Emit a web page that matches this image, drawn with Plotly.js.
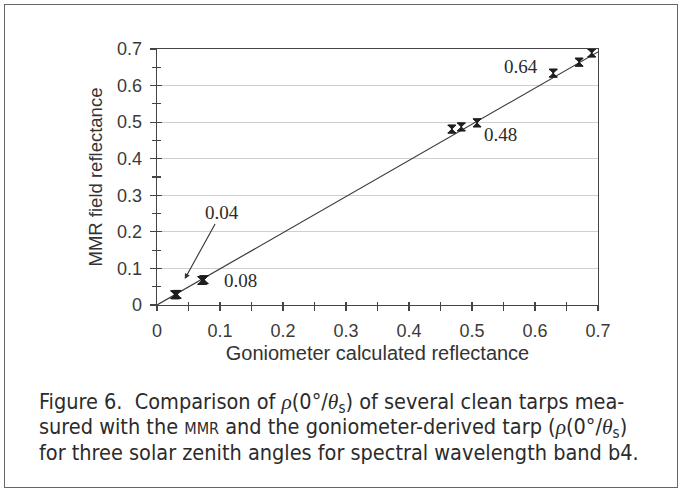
<!DOCTYPE html>
<html>
<head>
<meta charset="utf-8">
<script src="https://cdn.plot.ly/plotly-3.0.1.min.js"></script>
<style>
  html, body { margin: 0; padding: 0; background: #fff; }
  #wrap { position: relative; width: 683px; height: 491px; }
  #chart { position: absolute; left: 0; top: 0; width: 683px; height: 491px; }
  #frame { position: absolute; left: 4px; top: 4px; width: 672px; height: 482px;
           border: 1.5px solid #666; pointer-events: none; }
</style>
</head>
<body>
<div id="wrap">
  <div id="chart"></div>
  <div id="frame"></div>
</div>
<script>
// Goniometer-derived vs. MMR-measured reflectance, three solar zenith angles per tarp
const goniometer = [0.028, 0.030, 0.032, 0.071, 0.073, 0.075, 0.468, 0.483, 0.508, 0.629, 0.670, 0.690];
const mmrField   = [0.028, 0.028, 0.029, 0.067, 0.068, 0.069, 0.481, 0.487, 0.498, 0.634, 0.664, 0.689];
const mmrError   = [0.010, 0.010, 0.010, 0.010, 0.010, 0.010, 0.010, 0.010, 0.010, 0.010, 0.010, 0.010];

// Linear fit through the origin
const fitX = [0, 0.7];
const fitY = [0, 0.692];

// Nominal tarp reflectances and where their labels sit
const tarpLabels = ['0.04', '0.08', '0.48', '0.64'];
const labelX = [0.044, 0.133, 0.546, 0.578];
const labelY = [0.071, 0.068, 0.465, 0.651];

const tickVals = [0, 0.1, 0.2, 0.3, 0.4, 0.5, 0.6, 0.7];
const tickText = ['0', '0.1', '0.2', '0.3', '0.4', '0.5', '0.6', '0.7'];
const halfSteps = [0, 0.05, 0.1, 0.15, 0.2, 0.25, 0.3, 0.35, 0.4, 0.45, 0.5, 0.55, 0.6, 0.65, 0.7];

// Greek symbols set in a serif italic inside the sans caption
const greek = s => '<i style="font-family:\'Liberation Serif\',serif">' + s + '</i>';
const rhoTheta = greek('ρ') + '(0°/' + greek('θ') + '<sub>s</sub>)';
const captionLines = [
  'Figure 6.  Comparison of ' + rhoTheta + ' of several clean tarps mea-',
  'sured with the <span style="font-size:16px">MMR</span> and the goniometer-derived tarp (' + rhoTheta,
  'for three solar zenith angles for spectral wavelength band b4.'
];
const captionY = [-0.381, -0.479, -0.576];

const sans = 'Liberation Sans, Arial, sans-serif';
const serif = 'Liberation Serif, Times New Roman, serif';
const captionFont = 'DejaVu Sans Condensed, sans-serif';
const ink = '#2b2b2b';

const traces = [
  {
    x: fitX, y: fitY, type: 'scatter', mode: 'lines',
    line: { color: '#3a3a3a', width: 1.2 },
    hoverinfo: 'skip', showlegend: false
  },
  {
    x: goniometer, y: mmrField, type: 'scatter', mode: 'markers',
    marker: { symbol: 'hourglass', size: 8, color: '#1e1e1e',
              line: { color: '#1e1e1e', width: 1 } },
    error_y: { type: 'data', array: mmrError, visible: true,
               color: '#1e1e1e', thickness: 1.3, width: 4 },
    showlegend: false
  },
  // carrier for the crossing-tick overlay axes
  { x: [], y: [], xaxis: 'x2', yaxis: 'y2', type: 'scatter', mode: 'markers', showlegend: false }
];

const annotations = [];
tarpLabels.forEach((t, i) => {
  if (i === 0) {
    annotations.push({
      x: labelX[i], y: labelY[i], xref: 'x', yref: 'y',
      text: t, showarrow: true, ax: 37, ay: -67,
      arrowhead: 2, arrowsize: 1, arrowwidth: 1.1, arrowcolor: '#333',
      font: { family: serif, size: 19, color: ink }
    });
  } else {
    annotations.push({
      x: labelX[i], y: labelY[i], xref: 'x', yref: 'y',
      text: t, showarrow: false,
      font: { family: serif, size: 19, color: ink }
    });
  }
});
captionLines.forEach((line, i) => {
  annotations.push({
    x: -0.27, y: captionY[i], xref: 'paper', yref: 'paper',
    xanchor: 'left', yanchor: 'middle', align: 'left',
    text: line, showarrow: false, height: 24, borderpad: 0,
    font: { family: captionFont, size: 21.5, color: ink }
  });
});

const layout = {
  width: 683, height: 491,
  margin: { l: 157, r: 85, t: 49, b: 186 },
  paper_bgcolor: '#ffffff', plot_bgcolor: '#ffffff',
  font: { family: sans, color: ink },
  xaxis: {
    range: [0, 0.7], tickvals: tickVals, ticktext: tickText,
    showgrid: false, zeroline: false,
    showline: true, linecolor: '#444', linewidth: 1.3, mirror: true,
    ticks: 'outside', ticklen: 5, tickcolor: '#444', tickwidth: 1.2,
    ticklabelstandoff: 4,
    minor: { tickvals: halfSteps, ticks: 'outside', ticklen: 5, tickcolor: '#444', tickwidth: 1.2, showgrid: false },
    tickfont: { family: sans, size: 18, color: '#3a3a3a' },
    title: { text: 'Goniometer calculated reflectance', font: { family: sans, size: 20, color: '#333' }, standoff: 6 },
    fixedrange: true
  },
  yaxis: {
    range: [0, 0.7], tickvals: tickVals, ticktext: tickText,
    showgrid: true, gridcolor: '#cfcfcf', gridwidth: 1, zeroline: false,
    showline: true, linecolor: '#444', linewidth: 1.3, mirror: true,
    ticks: 'outside', ticklen: 6, tickcolor: '#444', tickwidth: 1.2,
    ticklabelstandoff: 4,
    minor: { tickvals: halfSteps, ticks: 'outside', ticklen: 4, tickcolor: '#444', tickwidth: 1.2, showgrid: false },
    tickfont: { family: sans, size: 18, color: '#3a3a3a' },
    title: { text: 'MMR field reflectance', font: { family: sans, size: 18.5, color: '#333' }, standoff: 9 },
    fixedrange: true
  },
  xaxis2: {
    overlaying: 'x', anchor: 'y2', range: [0, 0.7], tickvals: halfSteps,
    ticks: 'inside', ticklen: 3, tickcolor: '#444', tickwidth: 1.2,
    showticklabels: false, showgrid: false, showline: false, zeroline: false, fixedrange: true
  },
  yaxis2: {
    overlaying: 'y', anchor: 'x2', range: [0, 0.7], tickvals: tickVals,
    ticks: 'inside', ticklen: 5, tickcolor: '#444', tickwidth: 1.2,
    minor: { tickvals: halfSteps, ticks: 'inside', ticklen: 4, tickcolor: '#444', tickwidth: 1.2, showgrid: false },
    showticklabels: false, showgrid: false, showline: false, zeroline: false, fixedrange: true
  },
  annotations: annotations,
  showlegend: false
};

Plotly.newPlot('chart', traces, layout, { displayModeBar: false, staticPlot: true });
</script>
</body>
</html>
